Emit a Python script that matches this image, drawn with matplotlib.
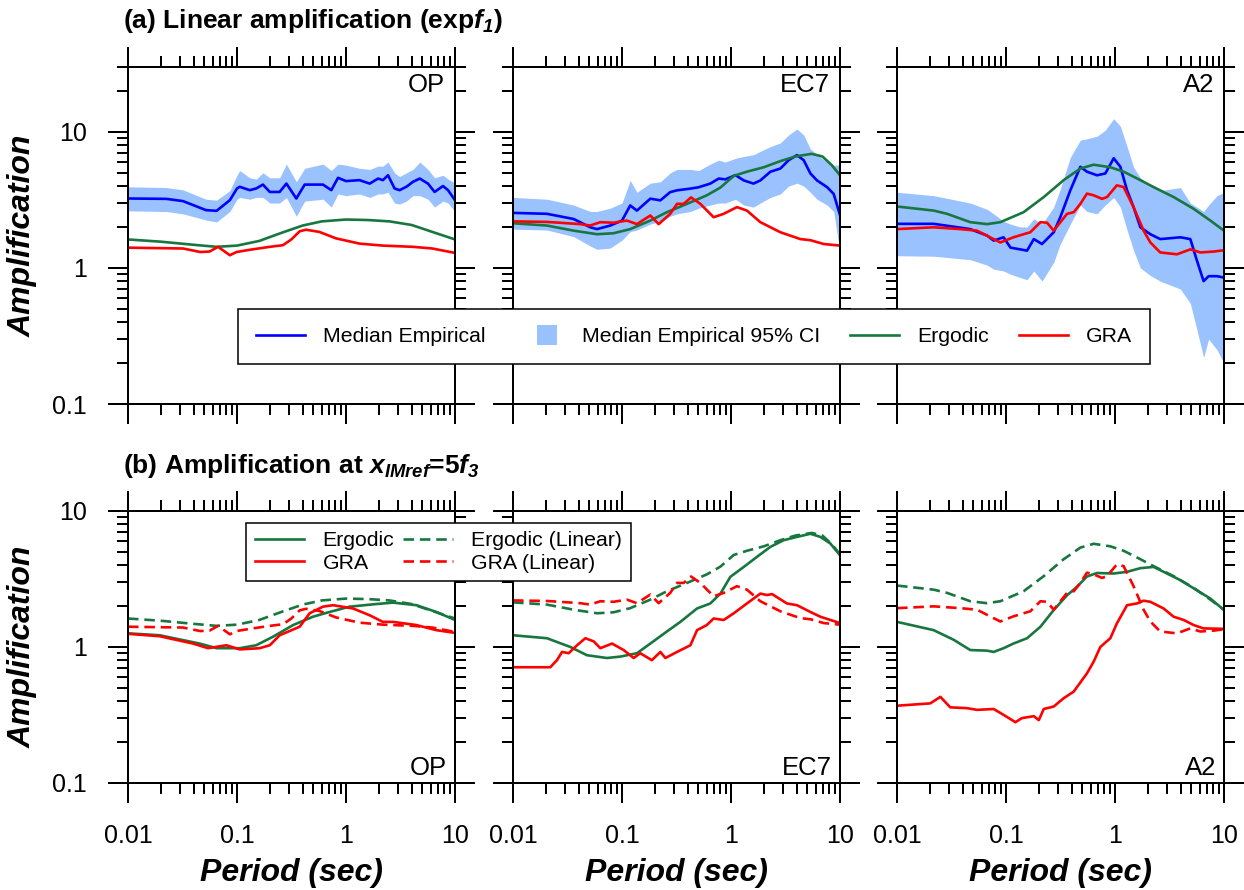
import numpy as np
import matplotlib
matplotlib.use("Agg")
import matplotlib.pyplot as plt
from matplotlib import ticker
import matplotlib.patches as mpatches
from matplotlib.lines import Line2D
from matplotlib.legend_handler import HandlerPatch

plt.rcParams.update({
    "font.family": "Liberation Sans",
    "mathtext.fontset": "custom",
    "mathtext.rm": "Liberation Sans",
    "mathtext.it": "Liberation Sans:italic",
    "mathtext.bf": "Liberation Sans:bold",
    "mathtext.bfit": "Liberation Sans:bold:italic",
})

# ---------------------------------------------------------------- data
SITES = ["OP", "EC7", "A2"]

# --- OP
OP_T_EMP = [0.01, 0.0225, 0.032, 0.052, 0.065, 0.086, 0.1, 0.106, 0.131, 0.15, 0.173, 0.2,
            0.246, 0.284, 0.35, 0.418, 0.615, 0.733, 0.845, 1.0, 1.33, 1.65, 1.97, 2.18,
            2.43, 2.79, 3.1, 3.58, 4.12, 4.75, 5.65, 6.5, 7.76, 8.63, 10]
OP_MED = [3.24, 3.22, 3.1, 2.66, 2.63, 3.15, 3.84, 3.95, 3.73, 3.84, 4.1, 3.62, 3.62, 4.17,
          3.24, 4.1, 4.1, 3.73, 4.6, 4.35, 4.42, 4.17, 4.54, 4.42, 4.8, 3.84, 3.73, 3.95,
          4.3, 4.54, 4.17, 3.62, 4.0, 3.73, 3.15]
OP_HI = [3.95, 3.9, 3.75, 3.2, 3.15, 3.7, 4.8, 5.2, 4.6, 4.5, 5.0, 4.6, 4.6, 5.8, 4.3, 5.4,
         5.8, 5.2, 5.8, 5.7, 5.4, 5.3, 5.6, 5.6, 6.0, 5.0, 4.7, 5.0, 5.3, 6.0, 5.3, 4.6,
         4.8, 4.5, 4.2]
OP_LO = [2.63, 2.6, 2.5, 2.25, 2.18, 2.6, 3.2, 3.3, 3.2, 3.3, 3.3, 3.0, 3.0, 3.3, 2.4, 3.1,
         3.2, 2.8, 3.5, 3.4, 3.5, 3.3, 3.5, 3.5, 3.6, 3.0, 2.95, 3.1, 3.4, 3.4, 3.2, 2.8,
         3.1, 3.0, 2.6]
OP_T_ERG = [0.01, 0.02, 0.04, 0.065, 0.1, 0.16, 0.26, 0.4, 0.6, 1.0, 1.6, 2.5, 4.0, 6.2, 10]
OP_ERG = [1.62, 1.56, 1.48, 1.43, 1.46, 1.58, 1.82, 2.05, 2.2, 2.27, 2.25, 2.2, 2.07, 1.84, 1.62]
OP_T_GRA = [0.01, 0.032, 0.046, 0.056, 0.067, 0.086, 0.099, 0.131, 0.2, 0.264, 0.315, 0.376,
            0.43, 0.57, 0.81, 1.33, 2.18, 4.12, 6.2, 10]
OP_GRA = [1.41, 1.39, 1.31, 1.32, 1.43, 1.24, 1.31, 1.36, 1.43, 1.47, 1.62, 1.86, 1.91, 1.84,
          1.65, 1.51, 1.46, 1.43, 1.39, 1.29]
OP_T_ERG_NL = [0.01, 0.0195, 0.0454, 0.065, 0.106, 0.15, 0.214, 0.327, 0.498, 0.708, 1.08,
               1.9, 2.7, 4.42, 6.74, 10]
OP_ERG_NL = [1.26, 1.22, 1.06, 0.98, 0.98, 1.03, 1.19, 1.45, 1.67, 1.81, 1.98, 2.07, 2.12,
             2.03, 1.81, 1.58]
OP_T_GRA_NL = [0.01, 0.0195, 0.0395, 0.0542, 0.08, 0.106, 0.161, 0.2, 0.246, 0.376, 0.464,
               0.615, 0.76, 1.16, 1.65, 2.18, 2.7, 4.42, 6.74, 10]
OP_GRA_NL = [1.25, 1.2, 1.06, 0.98, 1.03, 0.96, 0.98, 1.03, 1.22, 1.41, 1.77, 1.98, 2.03,
             1.92, 1.71, 1.53, 1.53, 1.45, 1.33, 1.27]

# --- EC7
EC7_T_EMP = [0.01, 0.0205, 0.036, 0.0512, 0.059, 0.078, 0.1, 0.119, 0.137, 0.182, 0.225,
             0.277, 0.32, 0.424, 0.505, 0.646, 0.771, 0.887, 1.1, 1.31, 1.61, 1.86, 2.3,
             2.84, 3.38, 4.03, 4.64, 5.35, 6.15, 7.6, 8.75, 10]
EC7_MED = [2.54, 2.5, 2.29, 1.99, 1.93, 2.05, 2.23, 2.88, 2.64, 3.23, 3.14, 3.61, 3.72, 3.83,
           3.92, 4.17, 4.54, 4.48, 4.81, 4.4, 4.17, 4.4, 5.1, 5.38, 6.2, 6.75, 6.2, 4.95,
           4.4, 3.93, 3.5, 2.45]
EC7_HI = [3.3, 3.2, 2.9, 2.6, 2.6, 2.75, 3.0, 4.4, 3.6, 4.2, 4.3, 5.0, 5.3, 5.3, 5.2, 5.8,
          6.2, 6.0, 6.4, 6.6, 6.8, 7.2, 7.8, 8.3, 9.5, 10.5, 9.5, 7.5, 6.8, 6.0, 5.7, 5.7]
EC7_LO = [1.93, 1.9, 1.7, 1.45, 1.37, 1.4, 1.6, 1.85, 1.9, 2.1, 2.2, 2.4, 2.5, 2.6, 2.75, 2.9,
          3.0, 3.0, 3.2, 2.9, 2.8, 3.0, 3.3, 3.5, 4.0, 4.2, 4.0, 3.6, 3.2, 2.9, 2.6, 1.3]
EC7_T_ERG = [0.01, 0.0205, 0.036, 0.059, 0.0837, 0.119, 0.182, 0.258, 0.395, 0.6, 0.8, 1.06,
             1.4, 2.0, 2.84, 3.9, 5.5, 6.9, 8.4, 10]
EC7_ERG = [2.13, 2.05, 1.88, 1.77, 1.8, 1.93, 2.23, 2.57, 2.96, 3.42, 3.9, 4.75, 5.1, 5.5,
           6.1, 6.6, 6.9, 6.6, 5.7, 4.8]
EC7_T_GRA = [0.01, 0.0205, 0.0415, 0.051, 0.0633, 0.0837, 0.111, 0.137, 0.182, 0.217, 0.277,
             0.32, 0.368, 0.43, 0.523, 0.693, 0.857, 1.135, 1.4, 1.86, 2.84, 4.33, 5.35,
             7.08, 10]
EC7_GRA = [2.2, 2.18, 2.1, 2.05, 2.17, 2.15, 2.23, 2.1, 2.43, 2.1, 2.5, 2.96, 2.96, 3.3, 2.96,
           2.36, 2.5, 2.8, 2.64, 2.17, 1.83, 1.63, 1.6, 1.5, 1.46]
EC7_T_ERG_NL = [0.01, 0.0205, 0.0336, 0.0477, 0.0728, 0.0966, 0.137, 0.182, 0.258, 0.343,
                0.488, 0.646, 0.8, 0.986, 1.31, 1.73, 2.3, 3.04, 4.03, 5.35, 6.6, 8.15, 10]
EC7_ERG_NL = [1.22, 1.16, 1.0, 0.87, 0.83, 0.85, 0.9, 1.06, 1.3, 1.53, 1.92, 2.09, 2.47, 3.28,
              3.88, 4.6, 5.45, 6.1, 6.45, 6.8, 6.45, 5.77, 4.73]
EC7_T_GRA_NL = [0.01, 0.022, 0.0253, 0.0282, 0.0324, 0.0387, 0.0461, 0.055, 0.0633, 0.081,
                0.1035, 0.128, 0.147, 0.188, 0.225, 0.25, 0.32, 0.424, 0.488, 0.6, 0.693,
                0.857, 1.06, 1.4, 1.86, 2.14, 2.38, 3.26, 4.03, 5.35, 6.6, 10]
EC7_GRA_NL = [0.71, 0.71, 0.8, 0.92, 0.9, 1.03, 1.16, 1.1, 0.98, 1.06, 0.95, 0.83, 0.9, 0.8,
              0.92, 0.83, 0.92, 1.03, 1.33, 1.45, 1.62, 1.58, 1.77, 2.09, 2.47, 2.41, 2.45,
              2.09, 2.03, 1.81, 1.67, 1.5]

# --- A2
A2_T_EMP = [0.01, 0.0217, 0.047, 0.067, 0.077, 0.095, 0.11, 0.135, 0.156, 0.18, 0.214, 0.274,
            0.315, 0.389, 0.481, 0.553, 0.684, 0.815, 0.973, 1.12, 1.29, 1.48, 1.71, 2.11,
            2.6, 3.98, 4.91, 5.65, 6.5, 7.23, 8.63, 10]
A2_MED = [2.11, 2.11, 1.93, 1.73, 1.59, 1.68, 1.41, 1.37, 1.34, 1.63, 1.5, 1.83, 2.36, 3.72,
          5.54, 5.1, 4.8, 4.95, 6.4, 5.54, 3.72, 2.8, 1.99, 1.77, 1.63, 1.68, 1.63, 1.13,
          0.8, 0.87, 0.87, 0.85]
A2_HI = [3.6, 3.4, 3.0, 2.7, 2.5, 2.2, 2.1, 2.0, 2.0, 2.3, 2.1, 2.8, 3.8, 6.5, 8.7, 8.9, 9.3,
         10.3, 12.5, 11.0, 7.8, 5.5, 4.6, 4.0, 3.7, 3.9, 3.0, 2.8, 2.6, 2.9, 3.4, 3.6]
A2_LO = [1.23, 1.22, 1.15, 1.05, 0.98, 0.95, 0.9, 0.85, 0.82, 0.95, 0.8, 1.1, 1.5, 2.1, 2.9,
         2.6, 2.5, 2.9, 3.3, 2.8, 1.9, 1.35, 1.0, 0.88, 0.8, 0.7, 0.55, 0.35, 0.22, 0.3,
         0.25, 0.2]
A2_T_ERG = [0.01, 0.0217, 0.0288, 0.047, 0.067, 0.0887, 0.145, 0.222, 0.338, 0.481, 0.637,
            0.906, 1.2, 1.71, 2.26, 3.45, 5.27, 7.5, 10]
A2_ERG = [2.83, 2.64, 2.5, 2.17, 2.1, 2.17, 2.57, 3.32, 4.42, 5.38, 5.74, 5.5, 5.1, 4.42, 3.93,
          3.32, 2.72, 2.23, 1.88]
A2_T_GRA = [0.01, 0.0217, 0.0381, 0.0542, 0.077, 0.0887, 0.117, 0.145, 0.167, 0.207, 0.238,
            0.274, 0.363, 0.418, 0.481, 0.553, 0.637, 0.76, 0.845, 1.04, 1.2, 1.48, 1.83,
            2.11, 2.6, 3.7, 4.91, 6.07, 8.04, 10]
A2_GRA = [1.93, 1.99, 1.93, 1.88, 1.63, 1.54, 1.68, 1.77, 1.83, 2.17, 2.15, 1.88, 2.5, 2.57,
          2.96, 3.52, 3.42, 3.22, 3.32, 4.05, 3.93, 2.8, 1.88, 1.54, 1.3, 1.26, 1.37, 1.3,
          1.32, 1.35]
A2_T_ERG_NL = [0.01, 0.0217, 0.0331, 0.047, 0.067, 0.077, 0.095, 0.117, 0.156, 0.207, 0.274,
               0.363, 0.448, 0.553, 0.684, 0.973, 1.29, 1.71, 2.26, 3.0, 3.98, 5.27, 7.5, 10]
A2_ERG_NL = [1.53, 1.33, 1.13, 0.95, 0.94, 0.92, 0.98, 1.06, 1.16, 1.41, 1.87, 2.4, 2.77, 3.3,
             3.5, 3.47, 3.57, 3.8, 3.88, 3.47, 3.1, 2.7, 2.27, 1.87]
A2_T_GRA_NL = [0.01, 0.0202, 0.025, 0.0308, 0.0439, 0.0542, 0.077, 0.095, 0.122, 0.14, 0.18,
               0.2, 0.222, 0.274, 0.338, 0.418, 0.553, 0.637, 0.733, 0.906, 1.04, 1.29, 1.59,
               1.83, 2.11, 2.79, 3.45, 4.27, 5.27, 6.5, 10]
A2_GRA_NL = [0.37, 0.385, 0.43, 0.36, 0.355, 0.345, 0.35, 0.317, 0.28, 0.3, 0.31, 0.29, 0.35,
             0.365, 0.42, 0.47, 0.64, 0.78, 1.0, 1.16, 1.49, 2.03, 2.09, 2.19, 2.15, 1.92,
             1.67, 1.58, 1.45, 1.37, 1.36]

SITE_DATA = {
    "OP": dict(t_emp=OP_T_EMP, med=OP_MED, hi=OP_HI, lo=OP_LO,
               t_erg=OP_T_ERG, erg=OP_ERG, t_gra=OP_T_GRA, gra=OP_GRA,
               t_erg_nl=OP_T_ERG_NL, erg_nl=OP_ERG_NL, t_gra_nl=OP_T_GRA_NL, gra_nl=OP_GRA_NL),
    "EC7": dict(t_emp=EC7_T_EMP, med=EC7_MED, hi=EC7_HI, lo=EC7_LO,
                t_erg=EC7_T_ERG, erg=EC7_ERG, t_gra=EC7_T_GRA, gra=EC7_GRA,
                t_erg_nl=EC7_T_ERG_NL, erg_nl=EC7_ERG_NL, t_gra_nl=EC7_T_GRA_NL, gra_nl=EC7_GRA_NL),
    "A2": dict(t_emp=A2_T_EMP, med=A2_MED, hi=A2_HI, lo=A2_LO,
               t_erg=A2_T_ERG, erg=A2_ERG, t_gra=A2_T_GRA, gra=A2_GRA,
               t_erg_nl=A2_T_ERG_NL, erg_nl=A2_ERG_NL, t_gra_nl=A2_T_GRA_NL, gra_nl=A2_GRA_NL),
}

# ---------------------------------------------------------------- style
BLUE = "#0000ff"
GREEN = "#17773f"
RED = "#ff0000"
CI_BLUE = "#99c2ff"
LW = 1.9
DASH = (0, (4, 2.2))
FRAME_LW = 1.44

W, H = 1244, 890
fig = plt.figure(figsize=(W / 100, H / 100), dpi=100)


def px_rect(left, top, width, height):
    return [left / W, 1 - (top + height) / H, width / W, height / H]


def style_axes(ax, ylim, show_y, show_x):
    ax.set_xscale("log")
    ax.set_yscale("log")
    ax.set_xlim(0.01, 10)
    ax.set_ylim(*ylim)
    fmt = ticker.FuncFormatter(lambda v, p: f"{v:g}")
    for axis in (ax.xaxis, ax.yaxis):
        axis.set_major_locator(ticker.LogLocator(base=10, numticks=12))
        axis.set_minor_locator(ticker.LogLocator(base=10, subs=np.arange(2, 10), numticks=24))
        axis.set_major_formatter(fmt)
        axis.set_minor_formatter(ticker.NullFormatter())
    ax.tick_params(which="both", direction="out", top=True, right=True,
                   width=FRAME_LW, labelsize=18, pad=15)
    ax.tick_params(which="major", length=14.4)
    ax.tick_params(which="minor", length=7.6)
    ax.tick_params(labelleft=show_y, labelbottom=show_x)
    for sp in ax.spines.values():
        sp.set_linewidth(FRAME_LW)


LEFTS = [128, 513, 897]
AX_W = 327

for i, site in enumerate(SITES):
    d = SITE_DATA[site]

    # (a) linear amplification
    ax = fig.add_axes(px_rect(LEFTS[i], 67, AX_W, 337))
    ax.fill_between(d["t_emp"], d["lo"], d["hi"], color=CI_BLUE, lw=0)
    ax.plot(d["t_emp"], d["med"], color=BLUE, lw=LW)
    ax.plot(d["t_erg"], d["erg"], color=GREEN, lw=LW)
    ax.plot(d["t_gra"], d["gra"], color=RED, lw=LW)
    style_axes(ax, (0.1, 30), show_y=(i == 0), show_x=False)
    ax.text(1 - 10 / AX_W, 1 - 6 / 337, site, transform=ax.transAxes,
            ha="right", va="top", fontsize=18.5)
    if i == 0:
        ax.set_ylabel("Amplification", fontsize=23, fontweight="bold", fontstyle="italic")
        ax.yaxis.set_label_coords(-0.275, 0.5)

    # (b) amplification at the reference intensity
    bx = fig.add_axes(px_rect(LEFTS[i], 511, AX_W, 272))
    bx.plot(d["t_erg_nl"], d["erg_nl"], color=GREEN, lw=LW)
    bx.plot(d["t_gra_nl"], d["gra_nl"], color=RED, lw=LW)
    bx.plot(d["t_erg"], d["erg"], color=GREEN, lw=LW, ls=DASH)
    bx.plot(d["t_gra"], d["gra"], color=RED, lw=LW, ls=DASH)
    style_axes(bx, (0.1, 10), show_y=(i == 0), show_x=True)
    bx.text(1 - 8 / AX_W, 8 / 272, site, transform=bx.transAxes,
            ha="right", va="baseline", fontsize=18.5)
    bx.set_xlabel("Period (sec)", fontsize=23, fontweight="bold", fontstyle="italic")
    bx.xaxis.set_label_coords(0.5, -0.276)
    if i == 0:
        bx.set_ylabel("Amplification", fontsize=23, fontweight="bold", fontstyle="italic")
        bx.yaxis.set_label_coords(-0.275, 0.5)


# ---------------------------------------------------------------- legends
def square_patch(legend, orig_handle, xdescent, ydescent, width, height, fontsize):
    s = 14.4
    return mpatches.Rectangle((-xdescent + width - s - 5, -ydescent + (height - s) / 2), s, s)


top_handles = [Line2D([], [], color=BLUE, lw=LW),
               mpatches.Patch(facecolor=CI_BLUE, edgecolor="none"),
               Line2D([], [], color=GREEN, lw=LW),
               Line2D([], [], color=RED, lw=LW)]
top_labels = ["Median Empirical", "Median Empirical 95% CI", "Ergodic", "GRA"]
leg_a = fig.legend(top_handles, top_labels, loc="center left",
                   bbox_to_anchor=(238 / W, 1 - 336.5 / H), borderaxespad=0, ncol=4,
                   fontsize=15.3, fancybox=False, framealpha=1, edgecolor="black",
                   borderpad=0.85, handlelength=2.3, handletextpad=0.85, columnspacing=1.41,
                   handler_map={mpatches.Patch: HandlerPatch(patch_func=square_patch)})
leg_a.get_frame().set_linewidth(1.1)

bot_handles = [Line2D([], [], color=GREEN, lw=LW),
               Line2D([], [], color=RED, lw=LW),
               Line2D([], [], color=GREEN, lw=LW, ls=DASH),
               Line2D([], [], color=RED, lw=LW, ls=DASH)]
bot_labels = ["Ergodic", "GRA", "Ergodic (Linear)", "GRA (Linear)"]
leg_b = fig.legend(bot_handles, bot_labels, loc="center left",
                   bbox_to_anchor=(246 / W, 1 - 552 / H), borderaxespad=0, ncol=2,
                   fontsize=15.3, fancybox=False, framealpha=1, edgecolor="black",
                   borderpad=0.4, handlelength=2.35, handletextpad=0.85, columnspacing=0.42,
                   labelspacing=0.15)
leg_b.get_frame().set_linewidth(1.1)

# ---------------------------------------------------------------- titles
fig.text(123 / W, 1 - 28 / H, r"(a) Linear amplification (exp$\mathbfit{f}_{\mathbfit{1}}$)",
         fontsize=19, fontweight="bold", va="baseline", ha="left")
fig.text(123 / W, 1 - 473 / H,
         r"(b) Amplification at $\mathbfit{x}_{\mathbfit{IMref}}$=5$\mathbfit{f}_{\mathbfit{3}}$",
         fontsize=19, fontweight="bold", va="baseline", ha="left")

fig.savefig("out.png", dpi=100)
